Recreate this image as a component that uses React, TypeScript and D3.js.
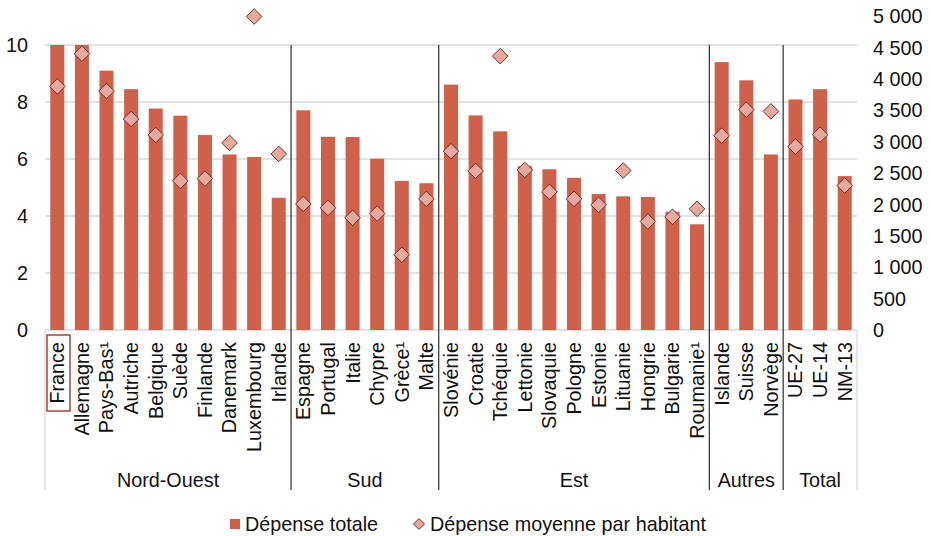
import * as d3 from "d3";

const groups = ["Nord-Ouest", "Sud", "Est", "Autres", "Total"];
const groupSizes = [10, 6, 11, 3, 3];

const countries = [
  "France", "Allemagne", "Pays-Bas¹", "Autriche", "Belgique", "Suède", "Finlande", "Danemark", "Luxembourg", "Irlande",
  "Espagne", "Portugal", "Italie", "Chypre", "Grèce¹", "Malte",
  "Slovénie", "Croatie", "Tchéquie", "Lettonie", "Slovaquie", "Pologne", "Estonie", "Lituanie", "Hongrie", "Bulgarie", "Roumanie¹",
  "Islande", "Suisse", "Norvège",
  "UE-27", "UE-14", "NM-13",
];

// Dépense totale (left axis)
const totalSpend = [
  10.0, 10.0, 9.1, 8.45, 7.77, 7.52, 6.84, 6.16, 6.07, 4.64,
  7.71, 6.78, 6.77, 6.01, 5.23, 5.15,
  8.61, 7.53, 6.97, 5.75, 5.64, 5.34, 4.77, 4.69, 4.67, 4.15, 3.71,
  9.4, 8.76, 6.16,
  8.09, 8.45, 5.4,
];

// Dépense moyenne par habitant (right axis)
const perCapita = [
  3885, 4406, 3811, 3365, 3110, 2378, 2415, 2983, 5000, 2808,
  2011, 1948, 1789, 1858, 1200, 2091,
  2850, 2537, 4368, 2553, 2203, 2091, 1996, 2543, 1730, 1805, 1932,
  3100, 3514, 3487,
  2925, 3116, 2304,
];

const leftTicks = [0, 2, 4, 6, 8, 10];
const rightTicks = [0, 500, 1000, 1500, 2000, 2500, 3000, 3500, 4000, 4500, 5000];

const W = 931;
const H = 536;
const FONT = "'Liberation Sans', Arial, sans-serif";
const FS = 19.8;
const BAR = "#cf604a";
const DIAMOND_FILL = "#e5a99d";
const DIAMOND_STROKE = "#7b2d22";

const fmt = (v: number) => d3.format(",")(v).replace(/,/g, "\u00a0");

export default function App() {
  const left = 45;
  const right = 857;
  const bottom = 330;
  const baseY = 490;

  const x = d3.scaleBand<string>().domain(countries).range([left, right]).paddingInner(0.43).paddingOuter(0.215);
  const step = x.step();
  const yL = d3.scaleLinear().domain([0, 11]).range([bottom, 16.5]);
  const yR = d3.scaleLinear().domain([0, 5000]).range([bottom, 16.5]);

  // group boundaries
  const bounds: number[] = [];
  let acc = 0;
  groupSizes.forEach((n) => {
    bounds.push(acc);
    acc += n;
  });
  const xAt = (i: number) => left + i * step;

  const diamond = (cx: number, cy: number, r: number) =>
    `M${cx},${cy - r}L${cx + r},${cy}L${cx},${cy + r}L${cx - r},${cy}Z`;

  return (
    <svg width={W} height={H} style={{ position: "absolute", left: 0, top: 0, background: "#fff" }} fontFamily={FONT}>
      {/* gridlines */}
      {leftTicks.map((t) => (
        <line key={"g" + t} x1={left} x2={right} y1={yL(t)} y2={yL(t)} stroke="#d9d9d9" strokeWidth={1.3} />
      ))}
      {/* outer category frame */}
      <line x1={left} x2={left} y1={bottom} y2={baseY} stroke="#d9d9d9" strokeWidth={1.3} />
      <line x1={right} x2={right} y1={bottom} y2={baseY} stroke="#d9d9d9" strokeWidth={1.3} />

      {/* bars */}
      {countries.map((c, i) => (
        <rect key={c} x={x(c)} y={yL(totalSpend[i])} width={x.bandwidth()} height={bottom - yL(totalSpend[i])} fill={BAR} />
      ))}

      {/* group separators */}
      {bounds.slice(1).map((b) => (
        <line key={"s" + b} x1={xAt(b)} x2={xAt(b)} y1={yL(10)} y2={baseY} stroke="#3a3a3a" strokeWidth={1.3} />
      ))}

      {/* diamonds */}
      {countries.map((c, i) => (
        <path
          key={"d" + c}
          d={diamond((x(c) as number) + x.bandwidth() / 2, yR(perCapita[i]), 7.8)}
          fill={DIAMOND_FILL}
          stroke={DIAMOND_STROKE}
          strokeWidth={1}
        />
      ))}

      {/* left axis labels */}
      {leftTicks.map((t) => (
        <text key={"l" + t} x={28} y={yL(t)} dy="0.35em" textAnchor="end" fontSize={FS} fill="#111">
          {t}
        </text>
      ))}
      {/* right axis labels */}
      {rightTicks.map((t) => (
        <text key={"r" + t} x={873} y={yR(t)} dy="0.35em" textAnchor="start" fontSize={FS} fill="#111">
          {fmt(t)}
        </text>
      ))}

      {/* category labels */}
      {countries.map((c) => {
        const cx = (x(c) as number) + x.bandwidth() / 2;
        return (
          <text key={"t" + c} transform={`translate(${cx},342) rotate(-90)`} dy="0.35em" textAnchor="end" fontSize={FS} fill="#111">
            {c}
          </text>
        );
      })}
      {/* France highlight box */}
      <rect x={47} y={335} width={23} height={76} fill="none" stroke="#a3443a" strokeWidth={1.5} />

      {/* group labels */}
      {groups.map((g, gi) => {
        const cx = (xAt(bounds[gi]) + xAt(bounds[gi] + groupSizes[gi])) / 2;
        return (
          <text key={"grp" + g} x={cx} y={487} textAnchor="middle" fontSize={FS} fill="#111">
            {g}
          </text>
        );
      })}

      {/* legend */}
      <rect x={230} y={519} width={10} height={10} fill={BAR} />
      <text x={245} y={531} fontSize={FS} fill="#111">Dépense totale</text>
      <path d={diamond(419, 524, 5.5)} fill={DIAMOND_FILL} stroke={DIAMOND_STROKE} strokeWidth={1} />
      <text x={430} y={531} fontSize={FS} fill="#111">Dépense moyenne par habitant</text>
    </svg>
  );
}
